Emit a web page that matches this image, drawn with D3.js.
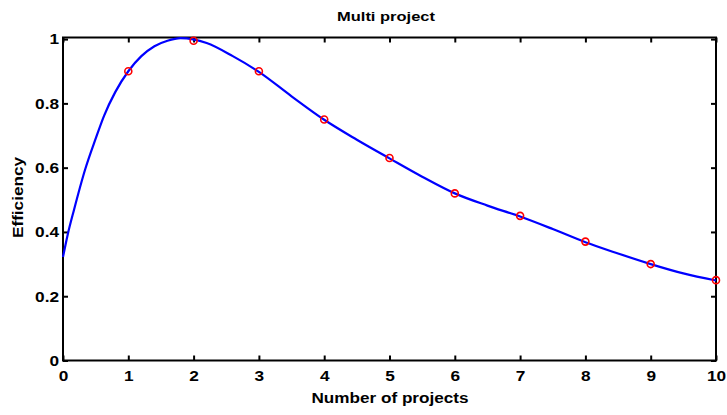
<!DOCTYPE html>
<html>
<head>
<meta charset="utf-8">
<script src="https://cdn.jsdelivr.net/npm/d3@7"></script>
<style>
  html, body { margin: 0; padding: 0; background: #fff; }
  svg { display: block; }
  text { font-family: "Liberation Sans", Arial, Helvetica, sans-serif; font-weight: bold; fill: #000; }
</style>
</head>
<body>
<svg id="chart" width="727" height="415"></svg>
<script>
// Measured efficiency for each number of concurrent projects
const projects   = [1, 2, 3, 4, 5, 6, 7, 8, 9, 10];
const efficiency = [0.9, 0.995, 0.9, 0.75, 0.63, 0.52, 0.45, 0.37, 0.30, 0.25];

// Smooth fitted curve, sampled along the x range
const fitX = [0, 0.07, 0.17, 0.34, 0.5, 0.63, 0.8, 1, 1.2, 1.4, 1.6, 1.8, 2.2, 2.6, 3,
              3.5, 4, 4.5, 5, 5.5, 6, 6.5, 7, 7.5, 8, 8.5, 9, 9.5, 10];
const fitY = [0.322, 0.39, 0.47, 0.595, 0.69, 0.762, 0.835, 0.90, 0.947, 0.978, 0.995, 1.003,
              0.988, 0.947, 0.898, 0.822, 0.749, 0.687, 0.629, 0.572, 0.520, 0.482, 0.448,
              0.409, 0.368, 0.333, 0.300, 0.271, 0.249];

const xTicks = [0, 1, 2, 3, 4, 5, 6, 7, 8, 9, 10];
const yTicks = [0, 0.2, 0.4, 0.6, 0.8, 1];

const title  = "Multi project";
const xLabel = "Number of projects";
const yLabel = "Efficiency";

const svg = d3.select("#chart");
const plot = { left: 63, right: 716, top: 37.5, bottom: 360.5 };

const x = d3.scaleLinear().domain([0, 10]).range([plot.left, plot.right]);
const y = d3.scaleLinear().domain([0, 1.005]).range([plot.bottom, plot.top]);

const tickLen = 5;
const axisColor = "#000";
const labelStretch = 1.15;   // the Helvetica-style face runs a little wider than Liberation Sans

// Box around the plot area
svg.append("rect")
  .attr("x", plot.left).attr("y", plot.top)
  .attr("width", plot.right - plot.left).attr("height", plot.bottom - plot.top)
  .attr("fill", "none").attr("stroke", axisColor).attr("stroke-width", 2);

// Axes: ticks point inward, mirrored on top and right
const axisBottom = d3.axisBottom(x).tickValues(xTicks).tickSizeInner(-tickLen).tickSizeOuter(0)
  .tickPadding(10).tickFormat(d3.format("d"));
const axisTop = d3.axisTop(x).tickValues(xTicks).tickSizeInner(-tickLen).tickSizeOuter(0).tickFormat("");
const axisLeft = d3.axisLeft(y).tickValues(yTicks).tickSizeInner(-tickLen).tickSizeOuter(0)
  .tickPadding(4).tickFormat(d => d === 0 || d === 1 ? d3.format("d")(d) : d3.format(".1f")(d));
const axisRight = d3.axisRight(y).tickValues(yTicks).tickSizeInner(-tickLen).tickSizeOuter(0).tickFormat("");

function styleAxis(g) {
  g.select(".domain").remove();
  g.selectAll(".tick line").attr("stroke", axisColor).attr("stroke-width", 2);
  g.selectAll(".tick text")
    .attr("font-size", 15).attr("font-weight", "bold")
    .attr("font-family", "'Liberation Sans', Arial, sans-serif").attr("fill", "#000")
    .attr("transform", function () {
      const tx = +this.getAttribute("x") || 0;
      return `translate(${tx},0) scale(${labelStretch},1) translate(${-tx},0)`;
    });
}

svg.append("g").attr("transform", `translate(0,${plot.bottom})`).call(axisBottom).call(styleAxis);
svg.append("g").attr("transform", `translate(0,${plot.top})`).call(axisTop).call(styleAxis);
svg.append("g").attr("transform", `translate(${plot.left},0)`).call(axisLeft).call(styleAxis);
svg.append("g").attr("transform", `translate(${plot.right},0)`).call(axisRight).call(styleAxis);

// Fitted curve
const fit = fitX.map((d, i) => [d, fitY[i]]);
svg.append("path")
  .datum(fit)
  .attr("fill", "none")
  .attr("stroke", "#0000ff")
  .attr("stroke-width", 2.2)
  .attr("d", d3.line().x(d => x(d[0])).y(d => y(d[1])).curve(d3.curveMonotoneX));

// Measured points
svg.append("g").selectAll("circle")
  .data(projects.map((d, i) => [d, efficiency[i]]))
  .join("circle")
  .attr("cx", d => x(d[0]))
  .attr("cy", d => y(d[1]))
  .attr("r", 3.5)
  .attr("fill", "none")
  .attr("stroke", "#ff0000")
  .attr("stroke-width", 1.6);

// Titles
svg.append("text")
  .attr("x", 386).attr("y", 20.5)
  .attr("text-anchor", "middle").attr("font-size", 13.5)
  .attr("textLength", 98).attr("lengthAdjust", "spacingAndGlyphs")
  .text(title);

svg.append("text")
  .attr("x", 390).attr("y", 403)
  .attr("text-anchor", "middle").attr("font-size", 14.5)
  .attr("textLength", 157).attr("lengthAdjust", "spacingAndGlyphs")
  .text(xLabel);

svg.append("text")
  .attr("transform", "translate(22.5,197.5) rotate(-90)")
  .attr("text-anchor", "middle").attr("font-size", 14.5)
  .attr("textLength", 81).attr("lengthAdjust", "spacingAndGlyphs")
  .text(yLabel);
</script>
</body>
</html>
